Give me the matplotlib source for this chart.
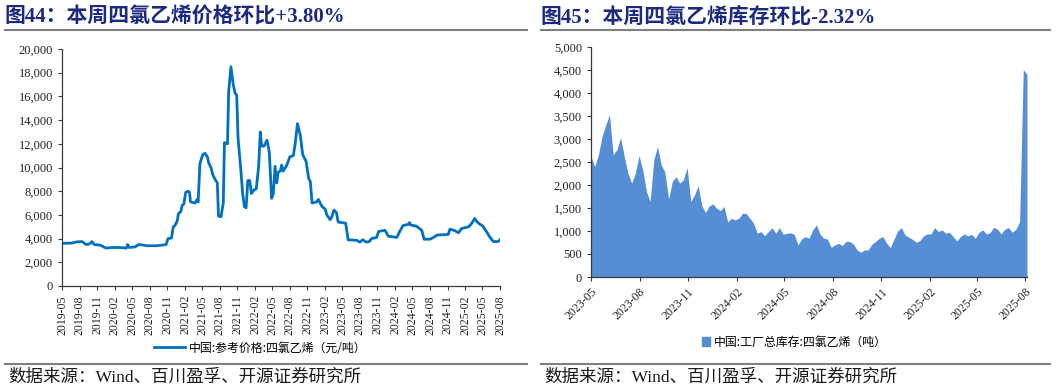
import matplotlib
matplotlib.use("Agg")
import matplotlib.pyplot as plt
from matplotlib.lines import Line2D
from matplotlib.patches import Patch
from matplotlib.ticker import FuncFormatter
import pandas as pd

# ---------------- data ----------------
price_dates = [
    "2019-05-01", "2019-06-21", "2019-07-16", "2019-08-13", "2019-09-04", "2019-09-22",
    "2019-10-04", "2019-10-16", "2019-11-16", "2019-12-16", "2020-01-16", "2020-02-27",
    "2020-04-01", "2020-04-07", "2020-04-16", "2020-05-16", "2020-06-04", "2020-06-28",
    "2020-07-16", "2020-09-07", "2020-10-04", "2020-10-25", "2020-11-04", "2020-11-22",
    "2020-12-01", "2020-12-10", "2020-12-22", "2020-12-28", "2021-01-10", "2021-01-16",
    "2021-01-25", "2021-02-04", "2021-02-16", "2021-02-24", "2021-03-01", "2021-03-25",
    "2021-04-04", "2021-04-10", "2021-04-19", "2021-05-04", "2021-05-16", "2021-05-28",
    "2021-06-04", "2021-06-16", "2021-06-25", "2021-07-07", "2021-07-19", "2021-07-25",
    "2021-08-07", "2021-08-19", "2021-08-25", "2021-09-10", "2021-09-16", "2021-09-28",
    "2021-10-10", "2021-10-19", "2021-10-28", "2021-11-04", "2021-11-19", "2021-11-28",
    "2021-12-07", "2021-12-16", "2021-12-25", "2022-01-04", "2022-01-13", "2022-01-25",
    "2022-02-07", "2022-02-19", "2022-02-28", "2022-03-07", "2022-03-19", "2022-04-04",
    "2022-04-16", "2022-04-28", "2022-05-07", "2022-05-16", "2022-05-25", "2022-06-01",
    "2022-06-13", "2022-06-19", "2022-06-28", "2022-07-16", "2022-08-01", "2022-08-19",
    "2022-08-28", "2022-09-10", "2022-09-25", "2022-10-07", "2022-10-25", "2022-11-07",
    "2022-11-16", "2022-11-25", "2022-12-19", "2022-12-28", "2023-01-16", "2023-02-01",
    "2023-02-10", "2023-02-27", "2023-03-07", "2023-03-19", "2023-04-01", "2023-04-10",
    "2023-05-19", "2023-06-01", "2023-07-16", "2023-08-01", "2023-08-16", "2023-09-04",
    "2023-09-19", "2023-10-01", "2023-10-28", "2023-11-07", "2023-12-10", "2023-12-28",
    "2024-02-10", "2024-02-25", "2024-03-13", "2024-04-10", "2024-04-16", "2024-04-22",
    "2024-05-22", "2024-06-19", "2024-07-01", "2024-08-01", "2024-08-19", "2024-09-07",
    "2024-11-04", "2024-11-13", "2024-12-04", "2024-12-28", "2025-01-13", "2025-02-19",
    "2025-03-07", "2025-03-22", "2025-04-04", "2025-04-19", "2025-05-01", "2025-05-22",
    "2025-06-10", "2025-06-28", "2025-07-22", "2025-08-01",
]
price_values = [
    3600, 3620, 3720, 3750, 3500, 3550,
    3750, 3500, 3450, 3200, 3250, 3250,
    3200, 3500, 3250, 3300, 3500, 3450,
    3400, 3400, 3450, 3500, 4000, 4050,
    5000, 5100, 5500, 6100, 6300, 6800,
    6900, 7900, 8000, 7900, 7100, 7000,
    7300, 7100, 10300, 11100, 11200, 10900,
    10400, 10000, 9400, 9000, 8700, 5900,
    5850, 7000, 12100, 12000, 16400, 18500,
    17000, 16300, 16100, 12500, 9700, 7800,
    6700, 6600, 8900, 8900, 7800, 8100,
    8200, 10000, 13000, 11800, 11800, 12300,
    11300, 7400, 7800, 10100, 8700, 9600,
    9700, 10200, 9700, 10200, 10900, 11000,
    11900, 13700, 12700, 11100, 10500, 9100,
    8800, 7000, 7100, 7300, 6700, 6500,
    6000, 5600, 5800, 6400, 6200, 5400,
    5300, 3900, 3850, 3700, 3900, 3700,
    3750, 4000, 4100, 4600, 4700, 4200,
    4100, 4600, 5100, 5200, 5350, 5150,
    5050, 4700, 3950, 3950, 4100, 4300,
    4350, 4800, 4700, 4500, 4850, 5000,
    5300, 5700, 5400, 5200, 5100, 4600,
    4100, 3750, 3750, 3900,
]
price_ticks = [
    "2019-05", "2019-08", "2019-11", "2020-02", "2020-05", "2020-08", "2020-11",
    "2021-02", "2021-05", "2021-08", "2021-11", "2022-02", "2022-05", "2022-08",
    "2022-11", "2023-02", "2023-05", "2023-08", "2023-11", "2024-02", "2024-05",
    "2024-08", "2024-11", "2025-02", "2025-05", "2025-08",
]

inv_start = "2023-05-05"
inv_values = [
    2620, 2400, 2655, 3055, 3310, 3527, 2656, 2765, 3033, 2620,
    2257, 2039, 2257, 2634, 2330, 1858, 1640, 2547, 2837, 2438,
    2279, 1691, 2075, 2184, 2039, 2112, 2380, 1640, 1785, 1981,
    1546, 1401, 1546, 1589, 1495, 1444, 1531, 1197, 1277, 1241,
    1277, 1386, 1379, 1277, 1168, 951, 987, 893, 987, 1074,
    951, 1074, 929, 951, 960,
    929, 697, 827, 878, 842, 1023, 1132, 929, 842, 827,
    646, 697, 733, 682, 776, 769, 718, 588, 537, 588,
    588, 711, 769, 842, 878, 733, 639, 820, 1001, 1074,
    914, 864, 820, 755, 791, 893, 936, 936, 1074, 987,
    1023, 951, 972, 878, 784, 878, 936, 893, 929, 842,
    972, 1023, 936, 965, 1081, 1038, 936, 1038, 1074, 972,
    1038, 1205, 4507, 4402,
]
inv_ticks = [
    "2023-05", "2023-08", "2023-11", "2024-02", "2024-05",
    "2024-08", "2024-11", "2025-02", "2025-05", "2025-08",
]

title_left = "图44：本周四氯乙烯价格环比+3.80%"
title_right = "图45：本周四氯乙烯库存环比-2.32%"
legend_left = "中国:参考价格:四氯乙烯（元/吨）"
legend_right = "中国:工厂总库存:四氯乙烯（吨）"
source_text = "数据来源：Wind、百川盈孚、开源证券研究所"

# ---------------- styling ----------------
W, H = 1057, 390
SERIF = ["Liberation Serif", "Noto Sans CJK SC"]
CJK = ["Noto Sans CJK SC", "DejaVu Sans"]
TITLE_COLOR = "#1B2A80"
LINE_COLOR = "#0070C0"
AREA_COLOR = "#558ED5"
AXIS_COLOR = "#3A3A3A"

fig = plt.figure(figsize=(W / 100, H / 100), dpi=100)


def fx(px):
    return px / W


def fy(py):
    return 1 - py / H


def style_axes(ax):
    for s in ("top", "right"):
        ax.spines[s].set_visible(False)
    for s in ("left", "bottom"):
        ax.spines[s].set_color(AXIS_COLOR)
        ax.spines[s].set_linewidth(0.9)
    ax.tick_params(axis="both", colors=AXIS_COLOR, length=3, width=0.8,
                   labelcolor="#222222")
    for lab in ax.get_yticklabels() + ax.get_xticklabels():
        lab.set_family(SERIF)


thousands = FuncFormatter(lambda v, p: f"{int(v):,}")

# ---------------- left chart ----------------
axL = fig.add_axes([fx(62), fy(286), fx(500 - 62), (286 - 49) / H])
pdates = pd.to_datetime(price_dates)
axL.plot(pdates, price_values, color=LINE_COLOR, lw=2.0, label=legend_left)
tick_dates_L = pd.to_datetime([t + "-01" for t in price_ticks])
axL.set_xlim(tick_dates_L[0], tick_dates_L[-1])
axL.set_xticks(tick_dates_L)
axL.set_xticklabels(price_ticks, rotation=90, fontsize=8.5)
axL.set_ylim(0, 20000)
axL.set_yticks(range(0, 20001, 2000))
axL.yaxis.set_major_formatter(thousands)
axL.tick_params(axis="y", labelsize=9)
style_axes(axL)
axL.legend(loc="center", bbox_to_anchor=(fx(260), fy(348)),
           bbox_transform=fig.transFigure, frameon=False,
           prop={"family": CJK, "size": 8.6}, handlelength=2.6,
           handletextpad=0.3, borderpad=0)

# ---------------- right chart ----------------
axR = fig.add_axes([fx(591), fy(277), fx(1027 - 591), (277 - 47) / H])
idates = pd.date_range(inv_start, periods=len(inv_values), freq="7D")
axR.fill_between(idates, inv_values, 0, color=AREA_COLOR, lw=0)
tick_dates_R = [pd.Timestamp(inv_start) + pd.DateOffset(months=3 * i)
                for i in range(len(inv_ticks))]
axR.set_xlim(idates[0], idates[-1])
axR.set_xticks(tick_dates_R)
axR.set_xticklabels(inv_ticks, rotation=45, ha="right", va="top",
                    rotation_mode="anchor", fontsize=8.5)
axR.set_ylim(0, 5000)
axR.set_yticks(range(0, 5001, 500))
axR.yaxis.set_major_formatter(thousands)
axR.tick_params(axis="y", labelsize=9)
style_axes(axR)
axR.legend(handles=[Patch(color=AREA_COLOR, label=legend_right)],
           loc="center", bbox_to_anchor=(fx(794), fy(342)),
           bbox_transform=fig.transFigure, frameon=False,
           prop={"family": CJK, "size": 8.6}, handlelength=0.7,
           handleheight=0.7, handletextpad=0.3, borderpad=0)

# ---------------- titles, rules, sources ----------------
for x0, x1, title in ((5, 527, title_left), (541, 1050, title_right)):
    fig.text(fx(x0), fy(17), title, family=SERIF, fontsize=15,
             fontweight="bold", color=TITLE_COLOR, ha="left", va="center")
    fig.add_artist(Line2D([fx(x0), fx(x1)], [fy(30), fy(30)],
                          color="#7F7F7F", lw=1.5, transform=fig.transFigure))
    fig.add_artist(Line2D([fx(x0), fx(x1)], [fy(364), fy(364)],
                          color="#7F7F7F", lw=1.5, transform=fig.transFigure))
    fig.text(fx(x0 + 3), fy(378), source_text, family=SERIF, fontsize=12.6,
             color="#1A1A1A", ha="left", va="center")

fig.savefig("out.png", dpi=100)
